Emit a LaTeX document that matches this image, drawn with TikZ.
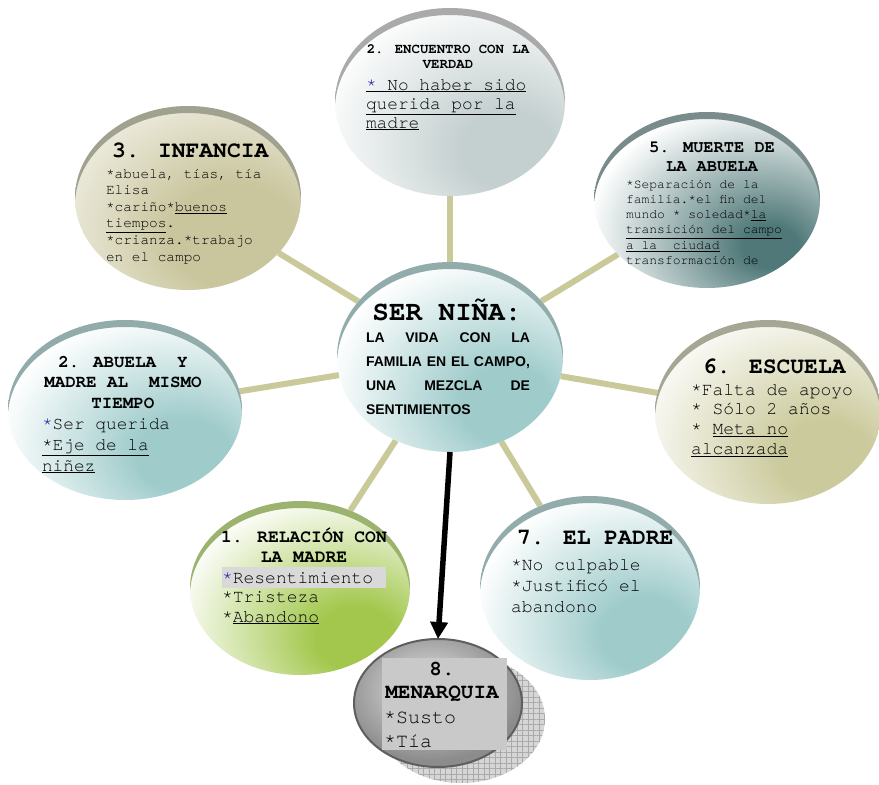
\documentclass[tikz,border=0pt]{standalone}
\usepackage{fontspec}
\newfontfamily\cour{TeX Gyre Cursor}
\newfontfamily\ari{Liberation Sans}
\usetikzlibrary{shapes.geometric,arrows.meta,backgrounds,patterns.meta}

\definecolor{cEncF}{HTML}{C4CFCF}\definecolor{cEncA}{HTML}{727272}
\definecolor{cInfF}{HTML}{C9C59D}\definecolor{cInfA}{HTML}{626246}
\definecolor{cMueF}{HTML}{507878}\definecolor{cMueA}{HTML}{203E3E}
\definecolor{cTealF}{HTML}{9FCBCB}\definecolor{cTealA}{HTML}{4A7474}
\definecolor{cEscF}{HTML}{CBCA9C}\definecolor{cEscA}{HTML}{6A6A4C}
\definecolor{cRelF}{HTML}{A2C74C}\definecolor{cRelA}{HTML}{5A8010}
\definecolor{cLine}{HTML}{C9C99A}
\definecolor{cStar}{HTML}{2020A0}
\definecolor{mgA}{HTML}{BEBEBE}\definecolor{mgB}{HTML}{8C8C8C}
\definecolor{mgBorder}{HTML}{5E5E5E}
\definecolor{shadowBase}{HTML}{D6D6D6}\definecolor{shadowGrid}{HTML}{AAAAAA}
\definecolor{boxGrey}{HTML}{C9C9C9}\definecolor{hlGrey}{HTML}{D9D9D9}

\pgfdeclareradialshading{shEnc}{\pgfpoint{14bp}{-14bp}}{color(0bp)=(cEncF); color(10bp)=(cEncF); color(38bp)=(white); color(100bp)=(white)}
\pgfdeclareradialshading{shInf}{\pgfpoint{12bp}{-12bp}}{color(0bp)=(cInfF); color(14bp)=(cInfF); color(48bp)=(white); color(100bp)=(white)}
\pgfdeclareradialshading{shMue}{\pgfpoint{15bp}{-14bp}}{color(0bp)=(cMueF); color(6bp)=(cMueF); color(36bp)=(white); color(100bp)=(white)}
\pgfdeclareradialshading{shTeal}{\pgfpoint{14bp}{-14bp}}{color(0bp)=(cTealF); color(10bp)=(cTealF); color(36bp)=(white); color(100bp)=(white)}
\pgfdeclareradialshading{shEsc}{\pgfpoint{14bp}{-14bp}}{color(0bp)=(cEscF); color(10bp)=(cEscF); color(40bp)=(white); color(100bp)=(white)}
\pgfdeclareradialshading{shRel}{\pgfpoint{14bp}{-16bp}}{color(0bp)=(cRelF); color(9bp)=(cRelF); color(38bp)=(white); color(100bp)=(white)}
\pgfdeclareradialshading{shGrey}{\pgfpoint{-3bp}{6bp}}{color(0bp)=(mgA); color(12bp)=(mgA); color(27bp)=(mgB); color(100bp)=(mgB)}

\newcommand\fsz[2]{\fontsize{#1pt}{#2pt}\selectfont\lineskiplimit=-100pt\relax}
\newcommand\ctitle[1]{\vtop{\halign{\hfil##\hfil\cr#1\crcr}}}
\newcommand\ltext[1]{\vtop{\halign{##\hfil\cr#1\crcr}}}
\newcommand\bstar{\textcolor{cStar}{*}}
\newcommand\crest[5]{%
  \begin{scope}
    \clip ({#1-#3-4},{#2-#4-4}) rectangle ({#1+#3+4},{#2});
    \shade[even odd rule, left color=#5!60!white, middle color=#5, right color=#5!60!white]
      (#1,#2) ellipse [x radius=#3pt, y radius=#4pt]
      (#1,{#2+7}) ellipse [x radius=#3pt, y radius=#4pt];
  \end{scope}}

\begin{document}
\begin{tikzpicture}[x=1pt,y=-1pt,
  bub/.style={ellipse, inner sep=0pt, outer sep=0pt, shade},
  conn/.style={draw=cLine, line width=6pt},
  tx/.style={inner sep=0pt, outer sep=0pt, font=\cour}]
\useasboundingbox (0,0) rectangle (879,785);

% bubbles
\node[bub, shading=shEnc, minimum width=230pt, minimum height=188pt] (enc) at (450,102) {};
\crest{450}{102}{115}{94}{cEncA}
\node[bub, shading=shInf, minimum width=226pt, minimum height=184pt] (inf) at (188,198) {};
\crest{188}{198}{113}{92}{cInfA}
\node[bub, shading=shMue, minimum width=226pt, minimum height=176pt] (mue) at (707,200) {};
\crest{707}{200}{113}{88}{cMueA}
\node[bub, shading=shTeal, minimum width=226pt, minimum height=190pt] (ctr) at (450,357) {};
\crest{450}{357}{113}{95}{cTealA}
\node[bub, shading=shTeal, minimum width=234pt, minimum height=180pt] (abu) at (125,410) {};
\crest{125}{410}{117}{90}{cTealA}
\node[bub, shading=shEsc, minimum width=226pt, minimum height=184pt] (esc) at (768,412) {};
\crest{768}{412}{113}{92}{cEscA}
\node[bub, shading=shRel, minimum width=220pt, minimum height=174pt] (rel) at (300,588) {};
\crest{300}{588}{110}{87}{cRelA}
\node[bub, shading=shTeal, minimum width=220pt, minimum height=184pt] (pad) at (590,588) {};
\crest{590}{588}{110}{92}{cTealA}

% menarquia
\fill[shadowBase] (461,719) ellipse [x radius=84pt, y radius=64pt];
\fill[pattern={Hatch[angle=0,distance=5.5pt,line width=0.5pt]}, pattern color=shadowGrid] (461,719) ellipse [x radius=84pt, y radius=64pt];
\node[bub, shading=shGrey, draw=mgBorder, line width=2pt, minimum width=168pt, minimum height=128pt] (men) at (438,703) {};
\fill[boxGrey] (382,658) rectangle (507,750);

% arrow
\draw[line width=5.5pt, -{Triangle[length=17pt,width=17pt]}] (ctr.south) -- (men.north);

% connectors
\begin{pgfonlayer}{background}
\fill[white] (0,0) rectangle (879,785);
\draw[conn] (ctr) -- (enc);
\draw[conn] (ctr) -- (inf);
\draw[conn] (ctr) -- (mue);
\draw[conn] (ctr) -- (abu);
\draw[conn] (ctr) -- (esc);
\draw[conn] (ctr) -- (rel);
\draw[conn] (ctr) -- (pad);
\end{pgfonlayer}

% texts
\node[tx, anchor=base] (encT) at (448,53) {\fsz{14}{15}\bfseries\ctitle{2. ENCUENTRO CON LA\cr VERDAD}};
\node[tx, anchor=base west] (encB) at (366,90) {\fsz{17.8}{19}\ltext{\underline{\bstar\ No haber sido}\cr \underline{querida por la}\cr \underline{madre}}};

\node[tx, anchor=base west] (infT) at (112,157) {\fsz{23}{26}\bfseries 3. INFANCIA};
\node[tx, anchor=base west] (infB) at (106,178) {\fsz{14.4}{16.6}\ltext{*abuela, tías, tía\cr Elisa\cr *cariño*\underline{buenos}\cr \underline{tiempos}.\cr *crianza.*trabajo\cr en el campo}};

\node[tx, anchor=base] (mueT) at (712,152) {\fsz{17}{19}\bfseries\ctitle{5. MUERTE DE\cr LA ABUELA}};
\node[tx, anchor=base west] (mueB) at (626,188) {\fsz{13}{15.3}\ltext{*Separación de la\cr familia.*el fin del\cr mundo * soledad*\underline{la}\cr \underline{transición del campo}\cr \underline{a la\ \ ciudad}\cr transformación de}};

\node[tx, anchor=base] (ctrT) at (447,320) {\fsz{27.6}{30}\bfseries SER NIÑA:};
\node[tx, anchor=base west, font=\ari] (ctrB) at (366,342) {\fsz{14}{24}\bfseries\vtop{\hbox to 164pt{LA\hfill VIDA\hfill CON\hfill LA}\hbox to 164pt{FAMILIA\hfill EN\hfill EL\hfill CAMPO,}\hbox to 164pt{UNA\hfill MEZCLA\hfill DE}\hbox{SENTIMIENTOS}}};

\node[tx, anchor=base] (abuT) at (123,367) {\fsz{17.5}{20.5}\bfseries\ctitle{2. ABUELA\ \ Y\cr MADRE AL\ \ MISMO\cr TIEMPO}};
\node[tx, anchor=base west] (abuB) at (42,429) {\fsz{17.8}{21}\ltext{\bstar Ser querida\cr \underline{*Eje de la}\cr \underline{niñez}}};

\node[tx, anchor=base west] (escT) at (703,373) {\fsz{23}{26}\bfseries 6. ESCUELA};
\node[tx, anchor=base west] (escB) at (691,395) {\fsz{18}{19.7}\ltext{*Falta de apoyo\cr * Sólo 2 años\cr * \underline{Meta no}\cr \underline{alcanzada}}};

\fill[hlGrey] (222,567) rectangle (386,588);
\node[tx, anchor=base] (relT) at (304,542) {\fsz{18}{20}\bfseries\ctitle{1. RELACIÓN CON\cr LA MADRE}};
\node[tx, anchor=base west] (relB) at (222,583) {\fsz{18}{19.5}\ltext{\bstar Resentimiento\cr *Tristeza\cr *\underline{Abandono}}};

\node[tx, anchor=base west] (padT) at (517,544) {\fsz{23}{26}\bfseries 7. EL PADRE};
\node[tx, anchor=base west] (padB) at (511,570) {\fsz{18}{21}\ltext{*No culpable\cr *Justificó el\cr abandono}};

\node[tx, anchor=base] (menT) at (442,675) {\fsz{21}{23}\bfseries\ctitle{8.\cr MENARQUIA}};
\node[tx, anchor=base west] (menB) at (384,723) {\fsz{20}{24}\ltext{*Susto\cr *Tía}};
\end{tikzpicture}
\end{document}
